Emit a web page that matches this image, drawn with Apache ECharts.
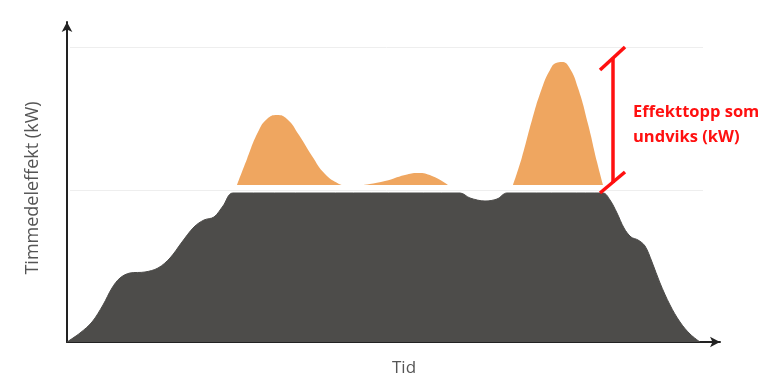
<!DOCTYPE html>
<html><head><meta charset="utf-8">
<script src="https://cdn.jsdelivr.net/npm/echarts@6/dist/echarts.min.js"></script>
<style>html,body{margin:0;padding:0;background:#fff}#c{width:768px;height:384px}</style>
</head><body><div id="c"></div>
<script>
// Load profile (Tid, Timmedeleffekt) - arbitrary units
const loadProfile = [[0,0],[13,9],[25,20],[36,37],[45,54],[53,64],[63,69],[78,70],[91,74],[103,84],[115,100],[127,115],[137,122],[147,125],[156,136],[166,149],[250,149],[393,149],[403,144],[418,141],[430,143],[440,149],[500,149],[536,149],[543,142],[550,129],[557,114],[564,105],[571,102],[578,96],[585,80],[593,59],[603,37],[613,20],[623,8],[633,0]];
// Avoided peaks above threshold
const peak1 = [[170,157],[180,183],[191,210],[200,223],[210,227],[220,223],[232,207],[245,186],[258,168],[272,158],[276,157]];
const peak2 = [[296,157],[318,161],[338,167],[351,169],[365,166],[381,157]];
const peak3 = [[446,157],[455,185],[465,222],[475,254],[483,272],[489,279],[495,280],[502,275],[511,254],[521,218],[530,180],[536,157]];
const peakBase = 157;
const gridLevels = [295, 152];
const annotationX = 546, annotationTop = 284, annotationBottom = 159;
const annotationText = 'Effekttopp som\nundviks (kW)';
const xName = 'Tid', yName = 'Timmedeleffekt (kW)';

const dark = '#4d4c4a', orange = '#efa660', red = '#ff1010';
const chart = echarts.init(document.getElementById('c'), null, {renderer:'canvas'});

function peakSeries(d){
  return {type:'line', data:d, smooth:0.5, symbol:'none', z:3,
    lineStyle:{width:0, color:orange}, areaStyle:{color:orange, opacity:1, origin:peakBase}};
}
chart.setOption({
  animation:false,
  grid:{left:67, right:48, top:22, bottom:42},
  xAxis:{type:'value', min:0, max:653, axisLine:{show:true, symbol:['none','arrow'], symbolSize:[8,10], lineStyle:{color:'#222', width:2}},
    axisTick:{show:false}, axisLabel:{show:false}, splitLine:{show:false}},
  yAxis:{type:'value', min:0, max:320, axisLine:{show:true, symbol:['none','arrow'], symbolSize:[8,10], lineStyle:{color:'#222', width:2}},
    axisTick:{show:false}, axisLabel:{show:false}, splitLine:{show:false}},
  graphic:[
    {type:'text', x:33, y:188, rotation:Math.PI/2, style:{text:yName, fill:'#555', font:'18px "Open Sans"', align:'center', verticalAlign:'middle'}},
    {type:'text', x:404, y:368, style:{text:xName, fill:'#555', font:'17px "Open Sans"', align:'center', verticalAlign:'middle'}}
  ],
  series:[
    {type:'line', data:loadProfile, smooth:0.35, symbol:'none', z:2,
      lineStyle:{width:1, color:dark}, areaStyle:{color:dark, opacity:1},
      markLine:{silent:true, symbol:'none', z:1, label:{show:false},
        lineStyle:{type:'solid', color:'#eeeeee', width:1},
        data: gridLevels.map(v=>[{coord:[3,v]},{coord:[636,v]}])}
    },
    peakSeries(peak1), peakSeries(peak2), peakSeries(peak3),
    {type:'line', data:[], z:5,
      markLine:{silent:true, symbol:'none', label:{show:false}, lineStyle:{type:'solid', color:red, width:3.5},
        data:[
          [{coord:[annotationX,annotationTop]},{coord:[annotationX,annotationBottom]}],
          [{coord:[annotationX-13,annotationTop-12]},{coord:[annotationX+12,annotationTop+11]}],
          [{coord:[annotationX-13,annotationBottom-10]},{coord:[annotationX+12,annotationBottom+11]}]
        ]},
      markPoint:{silent:true, symbol:'rect', symbolSize:0,
        data:[{coord:[annotationX+20,(annotationTop+annotationBottom)/2-4]}],
        label:{show:true, position:'right', formatter:annotationText, color:red, fontWeight:'bold', fontSize:16.5, fontFamily:'Open Sans', lineHeight:25, align:'left', verticalAlign:'middle', distance:0}}
    }
  ]
});
</script></body></html>
